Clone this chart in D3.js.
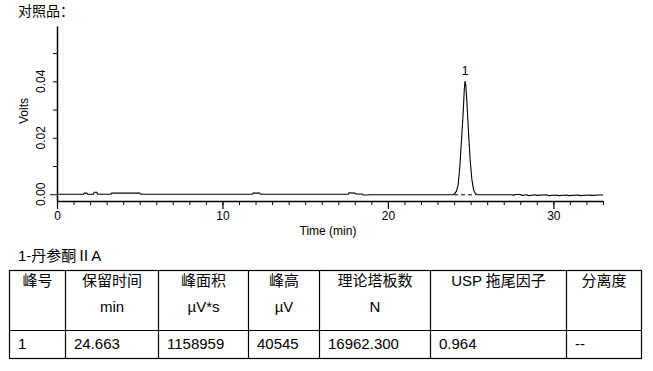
<!DOCTYPE html>
<html>
<head>
<meta charset="utf-8">
<script src="https://cdn.jsdelivr.net/npm/d3@7"></script>
<style>
  body { margin: 0; background: #fff; }
  svg { display: block; font-family: "Liberation Sans", Arial, "Noto Sans CJK SC", sans-serif; }
</style>
</head>
<body>
<div class="chart"></div>
<script>
// chromatogram trace: time (min) and signal (Volts)
var traceTime = [0, 1.6, 1.65, 1.8, 1.85, 2.2, 2.25, 2.4, 2.45, 3.25, 3.3, 5.0, 5.05,
  11.8, 11.85, 12.25, 12.3, 17.6, 17.65, 18.0, 18.05, 18.45, 18.5, 18.8, 18.85,
  23.95, 24.05, 24.15, 24.25, 24.35, 24.45, 24.55, 24.62, 24.663, 24.71, 24.78,
  24.88, 24.98, 25.08, 25.18, 25.28, 25.38, 27.5, 27.6, 27.7, 28.0, 28.1, 28.4,
  28.5, 28.9, 29.0, 29.6, 29.7, 30.2, 30.3, 30.8, 30.9, 31.5, 31.6, 32.2, 32.3,
  32.8, 33.0];
var traceVolts = [0, 0, 0.0004, 0.0004, 0, 0, 0.0007, 0.0007, 0, 0, 0.0004, 0.0004, 0,
  0, 0.0004, 0.0004, 0, 0, 0.0005, 0.0004, 0.0001, 0.0001, -0.0003, -0.0003, -0.0002,
  -0.0002, 0.0003, 0.0012, 0.0035, 0.0100, 0.0195, 0.0290, 0.0375, 0.0401, 0.0385, 0.0320,
  0.0210, 0.0115, 0.0050, 0.0015, 0.0003, -0.0002, -0.0002, -0.0004, -0.0001, -0.0001, -0.0004, -0.0002,
  -0.0005, -0.0002, -0.0004, -0.0002, -0.0005, -0.0003, -0.0005, -0.0003, -0.0005, -0.0003, -0.0005, -0.0003, -0.0004,
  -0.0003, -0.0003];

// integration baseline under the peak (dashed)
var baseTime = [24.0, 25.32];
var baseVolts = [-0.0002, -0.0002];

// peak labels
var peakNames = ["1"];
var peakTimes = [24.663];
var peakHeights = [0.0401];

// axis ticks
var xMajorTicks = [0, 10, 20, 30];
var xMinorTicks = d3.range(0, 34, 1);
var yMajorTicks = [0, 0.02, 0.04];
var yMinorTicks = [0, 0.01, 0.02, 0.03, 0.04, 0.05];

// texts
var pageTitle = "对照品：";
var xTitle = "Time (min)";
var yTitle = "Volts";
var tableTitle = "1-丹参酮ⅡA";
var headNames = ["峰号", "保留时间", "峰面积", "峰高", "理论塔板数", "USP 拖尾因子", "分离度"];
var headUnits = ["", "min", "µV*s", "µV", "N", "", ""];
var rowValues = ["1", "24.663", "1158959", "40545", "16962.300", "0.964", "--"];

var svgWidth = 653;
var svgHeight = 371;

var svg = d3.select(".chart")
  .append("svg")
  .attr("width", svgWidth)
  .attr("height", svgHeight);

// page title
svg.append("text")
  .attr("x", 18)
  .attr("y", 11)
  .attr("dy", "0.35em")
  .style("font-size", "14px")
  .text(pageTitle);

// create scales
var xScale = d3.scaleLinear()
  .domain([0, 33])
  .range([57, 603]);

var yScale = d3.scaleLinear()
  .domain([-0.0024, 0.0596])
  .range([201, 26]);

// minor x ticks
svg.append("g")
  .attr("transform", "translate(0, 201)")
  .call(d3.axisBottom(xScale).tickValues(xMinorTicks).tickSize(4).tickSizeOuter(0).tickFormat(""))
  .call(g => g.select(".domain").attr("stroke-width", 1.5));

// major x ticks with labels
var xAxisG = svg.append("g")
  .attr("transform", "translate(0, 201)")
  .call(d3.axisBottom(xScale).tickValues(xMajorTicks).tickSize(8).tickSizeOuter(0).tickFormat(d3.format("d")));
xAxisG.select(".domain").remove();
xAxisG.attr("font-family", null).attr("font-size", null);
xAxisG.selectAll("line").attr("stroke-width", 1.2);
xAxisG.selectAll("text")
  .attr("y", 15)
  .attr("dy", "0.35em")
  .style("font-size", "12px");

// y axis
var yAxisG = svg.append("g")
  .attr("transform", "translate(57, 0)")
  .call(d3.axisLeft(yScale).tickValues(yMinorTicks).tickSize(4).tickSizeOuter(0).tickFormat(""));
yAxisG.select(".domain").attr("stroke-width", 1.5);
yAxisG.selectAll(".tick").filter(d => d === 0).select("line").attr("x2", -7);

// rotated y tick labels
svg.append("g")
  .selectAll("text")
  .data(yMajorTicks)
  .enter()
  .append("text")
  .attr("transform", d => `translate(40.5, ${yScale(d)}) rotate(-90)`)
  .attr("text-anchor", "middle")
  .attr("dy", "0.35em")
  .style("font-size", "12px")
  .text(d3.format(".2f"));

// axis titles
svg.append("text")
  .attr("x", 328)
  .attr("y", 231)
  .attr("dy", "0.35em")
  .attr("text-anchor", "middle")
  .style("font-size", "12px")
  .text(xTitle);

svg.append("text")
  .attr("transform", "translate(24, 111) rotate(-90)")
  .attr("text-anchor", "middle")
  .attr("dy", "0.35em")
  .style("font-size", "12px")
  .text(yTitle);

// the trace
var line = d3.line()
  .x(d => xScale(d[0]))
  .y(d => yScale(d[1]));

svg.append("path")
  .datum(d3.zip(traceTime, traceVolts))
  .attr("d", line)
  .attr("fill", "none")
  .attr("stroke", "#000")
  .attr("stroke-width", 1.1);

// dashed integration baseline
svg.append("path")
  .datum(d3.zip(baseTime, baseVolts))
  .attr("d", line)
  .attr("fill", "none")
  .attr("stroke", "#000")
  .attr("stroke-width", 1)
  .attr("stroke-dasharray", "4,3");

// peak label
svg.append("g")
  .selectAll("text")
  .data(d3.zip(peakNames, peakTimes, peakHeights))
  .enter()
  .append("text")
  .attr("x", d => xScale(d[1]))
  .attr("y", d => yScale(d[2]) - 10)
  .attr("dy", "0.35em")
  .attr("text-anchor", "middle")
  .style("font-size", "12px")
  .text(d => d[0]);

// results table
svg.append("text")
  .attr("x", 18)
  .attr("y", 256)
  .attr("dy", "0.35em")
  .style("font-size", "15px")
  .text(tableTitle);

var colEdges = [9.5, 65.5, 158.5, 248.5, 319.5, 430.5, 566.5, 641.5];
var tableTop = 270.5, tableMid = 330.5, tableBottom = 358.5;

var tableG = svg.append("g")
  .attr("stroke", "#000")
  .attr("stroke-width", 1.2);

tableG.append("rect")
  .attr("x", colEdges[0])
  .attr("y", tableTop)
  .attr("width", colEdges[7] - colEdges[0])
  .attr("height", tableBottom - tableTop)
  .attr("fill", "none");

tableG.append("line")
  .attr("x1", colEdges[0]).attr("x2", colEdges[7])
  .attr("y1", tableMid).attr("y2", tableMid);

tableG.selectAll(".col")
  .data(colEdges.slice(1, 7))
  .enter()
  .append("line")
  .attr("class", "col")
  .attr("x1", d => d).attr("x2", d => d)
  .attr("y1", tableTop).attr("y2", tableBottom);

var cells = svg.append("g").style("font-size", "15px");

cells.selectAll(".head")
  .data(headNames)
  .enter()
  .append("text")
  .attr("class", "head")
  .attr("x", (d, i) => (colEdges[i] + colEdges[i + 1]) / 2)
  .attr("y", 281)
  .attr("dy", "0.35em")
  .attr("text-anchor", "middle")
  .text(d => d);

cells.selectAll(".unit")
  .data(headUnits)
  .enter()
  .append("text")
  .attr("class", "unit")
  .attr("x", (d, i) => (colEdges[i] + colEdges[i + 1]) / 2)
  .attr("y", 307)
  .attr("dy", "0.35em")
  .attr("text-anchor", "middle")
  .text(d => d);

cells.selectAll(".val")
  .data(rowValues)
  .enter()
  .append("text")
  .attr("class", "val")
  .attr("x", (d, i) => colEdges[i] + 8.5)
  .attr("y", 343.5)
  .attr("dy", "0.35em")
  .text(d => d);
</script>
</body>
</html>
